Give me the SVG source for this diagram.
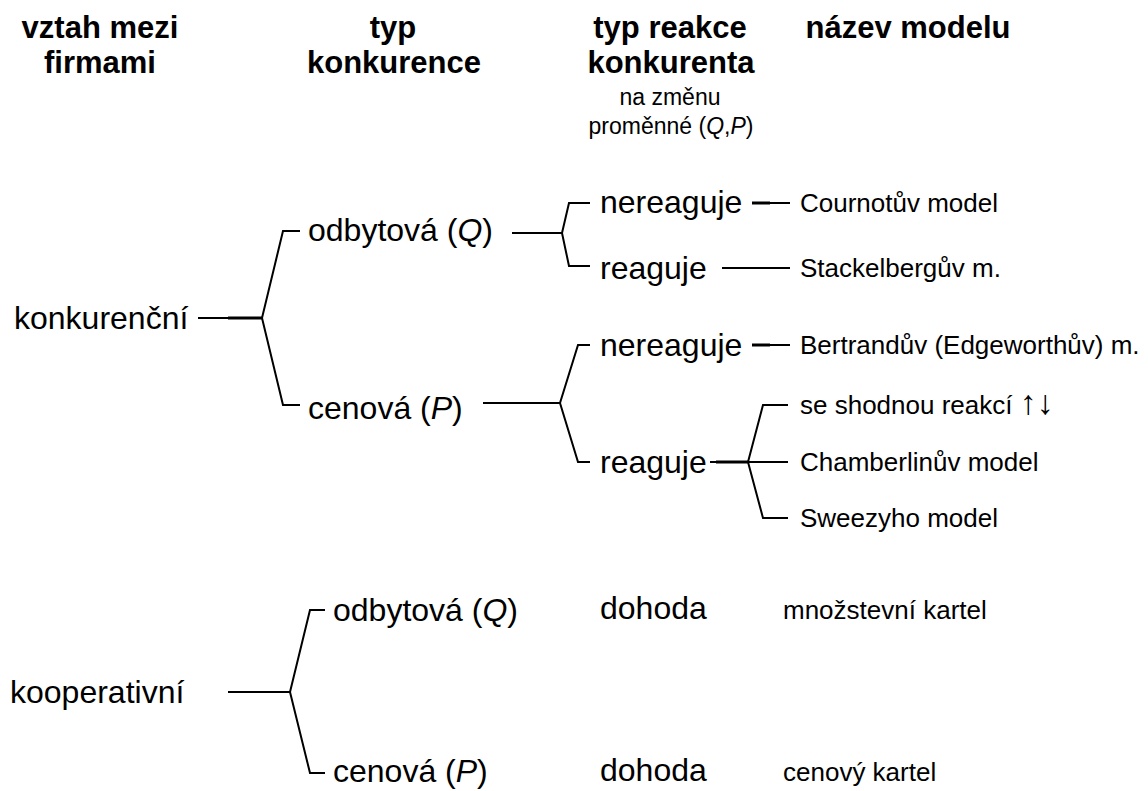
<svg xmlns="http://www.w3.org/2000/svg" width="1148" height="791" viewBox="0 0 1148 791">
  <style>
    text { font-family: "Liberation Sans", Arial, sans-serif; fill: #000; }
    .hd { font-size: 31px; font-weight: bold; text-anchor: middle; }
    .sub { font-size: 23px; text-anchor: middle; }
    .lv { font-size: 32px; }
    .md { font-size: 26px; }
    .arr { font-size: 34px; }
    .ln { fill: none; stroke: #000; stroke-width: 2; }
    .lnb { fill: none; stroke: #000; stroke-width: 3; }
  </style>

  <!-- column headings -->
  <g id="headings">
    <text class="hd" x="100" y="38">vztah mezi</text>
    <text class="hd" x="100" y="73">firmami</text>
    <text class="hd" x="393" y="38">typ</text>
    <text class="hd" x="394" y="73">konkurence</text>
    <text class="hd" x="670" y="38">typ reakce</text>
    <text class="hd" x="671" y="73">konkurenta</text>
    <text class="sub" x="670" y="105">na změnu</text>
    <text class="sub" x="671" y="134">proměnné (<tspan font-style="italic">Q</tspan>,<tspan font-style="italic">P</tspan>)</text>
    <text class="hd" x="908" y="38">název modelu</text>
  </g>

  <!-- connectors -->
  <g id="connectors">
    <!-- konkurenční -->
    <polyline class="ln" points="198,318 262,318"/>
    <polyline class="lnb" points="228,318 262,318"/>
    <polyline class="ln" points="300,231 283,231 262,318 283,405 300,405"/>
    <!-- odbytová (Q) -->
    <polyline class="ln" points="512,233 562,233"/>
    <polyline class="ln" points="590,203 569,203 562,233 569,266 590,266"/>
    <line class="lnb" x1="752" y1="203" x2="770" y2="203"/>
    <line class="ln" x1="770" y1="203" x2="790" y2="203"/>
    <line class="ln" x1="722" y1="268" x2="790" y2="268"/>
    <!-- cenová (P) -->
    <polyline class="ln" points="483,403 560,403"/>
    <polyline class="ln" points="590,345 578,345 560,403 578,462 590,462"/>
    <line class="lnb" x1="752" y1="345" x2="770" y2="345"/>
    <line class="ln" x1="770" y1="345" x2="790" y2="345"/>
    <!-- reaguje (cenová) -->
    <line class="ln" x1="710" y1="462" x2="788" y2="462"/>
    <line class="lnb" x1="716" y1="462" x2="748" y2="462"/>
    <polyline class="ln" points="788,405 763,405 748,462 763,518 788,518"/>
    <!-- kooperativní -->
    <polyline class="ln" points="228,692 290,692"/>
    <polyline class="ln" points="325,610 310,610 290,692 310,773 325,773"/>
  </g>

  <!-- level 1 -->
  <g id="n-konkurencni"><text class="lv" x="14" y="329">konkurenční</text></g>
  <g id="n-kooperativni"><text class="lv" x="10" y="703">kooperativní</text></g>

  <!-- level 2 -->
  <g id="n-odbytova-1"><text class="lv" x="308" y="241">odbytová (<tspan font-style="italic">Q</tspan>)</text></g>
  <g id="n-cenova-1"><text class="lv" x="308" y="419">cenová (<tspan font-style="italic">P</tspan>)</text></g>
  <g id="n-odbytova-2"><text class="lv" x="333" y="621">odbytová (<tspan font-style="italic">Q</tspan>)</text></g>
  <g id="n-cenova-2"><text class="lv" x="333" y="782">cenová (<tspan font-style="italic">P</tspan>)</text></g>

  <!-- level 3 -->
  <g id="n-nereaguje-q"><text class="lv" x="600" y="213">nereaguje</text></g>
  <g id="n-reaguje-q"><text class="lv" x="600" y="279">reaguje</text></g>
  <g id="n-nereaguje-p"><text class="lv" x="600" y="356">nereaguje</text></g>
  <g id="n-reaguje-p"><text class="lv" x="600" y="473">reaguje</text></g>
  <g id="n-dohoda-q"><text class="lv" x="600" y="619">dohoda</text></g>
  <g id="n-dohoda-p"><text class="lv" x="600" y="781">dohoda</text></g>

  <!-- models -->
  <g id="m-cournot"><text class="md" x="800" y="212">Cournotův model</text></g>
  <g id="m-stackelberg"><text class="md" x="800" y="277">Stackelbergův m.</text></g>
  <g id="m-bertrand"><text class="md" x="800" y="354">Bertrandův (Edgeworthův) m.</text></g>
  <g id="m-shodna"><text class="md" x="800" y="414">se shodnou reakcí <tspan class="arr">↑↓</tspan></text></g>
  <g id="m-chamberlin"><text class="md" x="800" y="471">Chamberlinův model</text></g>
  <g id="m-sweezy"><text class="md" x="800" y="527">Sweezyho model</text></g>
  <g id="m-mnozstevni"><text class="md" x="783" y="619">množstevní kartel</text></g>
  <g id="m-cenovy"><text class="md" x="783" y="781">cenový kartel</text></g>
</svg>
